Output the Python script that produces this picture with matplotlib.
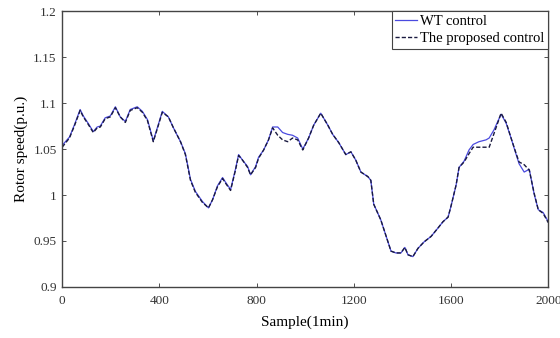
import matplotlib
matplotlib.use("Agg")
import matplotlib.pyplot as plt

plt.rcParams['font.family'] = ['Liberation Serif', 'DejaVu Serif']

# Sample index (1 min resolution)
samples = [0, 30, 50, 74, 87, 107, 128, 144, 157, 177, 198, 219, 239, 260, 280,
           309, 330, 351, 375, 396, 412, 437, 458, 487, 507, 528, 548, 577, 602,
           619, 639, 660, 672, 693, 713, 726, 742, 763, 775, 796, 808, 829, 849,
           866, 887, 907, 928, 948, 969, 990, 1014, 1035, 1064, 1093, 1113, 1138,
           1167, 1188, 1208, 1229, 1258, 1270, 1282, 1311, 1332, 1353, 1373, 1394,
           1410, 1423, 1443, 1464, 1489, 1518, 1546, 1567, 1588, 1600, 1621, 1633,
           1654, 1674, 1691, 1715, 1744, 1757, 1777, 1806, 1827, 1847, 1868, 1880,
           1901, 1922, 1942, 1959, 1979, 2000]

# Rotor speed under the proposed control (p.u.)
speed_proposed = [1.052, 1.062, 1.075, 1.092, 1.085, 1.077, 1.068, 1.073, 1.074,
                  1.083, 1.085, 1.095, 1.085, 1.079, 1.092, 1.095, 1.090, 1.081,
                  1.058, 1.076, 1.090, 1.085, 1.073, 1.058, 1.044, 1.016, 1.003,
                  0.992, 0.986, 0.995, 1.009, 1.018, 1.013, 1.005, 1.027, 1.043,
                  1.038, 1.030, 1.022, 1.030, 1.040, 1.049, 1.060, 1.073, 1.065,
                  1.060, 1.058, 1.062, 1.060, 1.049, 1.062, 1.076, 1.089, 1.076,
                  1.066, 1.057, 1.044, 1.047, 1.038, 1.025, 1.020, 1.016, 0.990,
                  0.973, 0.956, 0.939, 0.937, 0.937, 0.943, 0.935, 0.933, 0.942,
                  0.949, 0.955, 0.964, 0.971, 0.976, 0.988, 1.011, 1.030, 1.036,
                  1.045, 1.052, 1.052, 1.052, 1.052, 1.067, 1.089, 1.079, 1.062,
                  1.045, 1.036, 1.033, 1.027, 1.002, 0.984, 0.980, 0.970]

# Rotor speed under WT control (p.u.)
speed_wt = [1.054, 1.063, 1.076, 1.093, 1.086, 1.078, 1.069, 1.074, 1.075, 1.084,
            1.086, 1.096, 1.085, 1.080, 1.093, 1.096, 1.091, 1.082, 1.059, 1.077,
            1.091, 1.085, 1.073, 1.058, 1.045, 1.017, 1.004, 0.993, 0.986, 0.995,
            1.010, 1.019, 1.014, 1.006, 1.028, 1.044, 1.038, 1.031, 1.022, 1.031,
            1.041, 1.049, 1.060, 1.074, 1.074, 1.068, 1.066, 1.065, 1.062, 1.050,
            1.062, 1.076, 1.089, 1.076, 1.066, 1.057, 1.044, 1.047, 1.038, 1.025,
            1.020, 1.016, 0.990, 0.973, 0.956, 0.939, 0.937, 0.937, 0.943, 0.935,
            0.933, 0.942, 0.949, 0.955, 0.964, 0.971, 0.976, 0.988, 1.011, 1.030,
            1.037, 1.049, 1.055, 1.058, 1.060, 1.062, 1.071, 1.088, 1.078, 1.062,
            1.044, 1.034, 1.025, 1.028, 1.001, 0.984, 0.981, 0.971]

x_ticks = [0, 400, 800, 1200, 1600, 2000]
y_ticks = [0.9, 0.95, 1.0, 1.05, 1.1, 1.15, 1.2]
y_tick_labels = ['0.9', '0.95', '1', '1.05', '1.1', '1.15', '1.2']

fig = plt.figure(figsize=(5.6, 3.38), dpi=100)
ax = fig.add_axes([0.111, 0.151, 0.868, 0.816])

ax.plot(samples, speed_wt, color='#4a4adf', linewidth=0.9, label='WT control')
ax.plot(samples, speed_proposed, color='#1a1a40', linewidth=1.0,
        linestyle=(0, (3, 1.5)), label='The proposed control')

ax.set_xlim(0, 2000)
ax.set_ylim(0.9, 1.2)
ax.set_xticks(x_ticks)
ax.set_yticks(y_ticks)
ax.set_yticklabels(y_tick_labels)
ax.tick_params(direction='in', top=True, right=True, labelsize=9.5,
               length=3, width=0.6, colors='#333333')
ax.tick_params(axis='x', pad=6)
ax.tick_params(axis='y', pad=4)
for sp in ax.spines.values():
    sp.set_linewidth(1.0)
    sp.set_color('#444444')

ax.set_xlabel('Sample(1min)', fontsize=11, labelpad=6)
ax.set_ylabel('Rotor speed(p.u.)', fontsize=11, labelpad=4)

leg = ax.legend(loc='upper right', fontsize=10.5, frameon=True, fancybox=False,
                edgecolor='#444444', framealpha=1, borderpad=0.25,
                labelspacing=0.25, handlelength=1.5, handletextpad=0.2,
                borderaxespad=0.0)
leg.get_frame().set_linewidth(0.8)

fig.savefig('out.png', dpi=100)
